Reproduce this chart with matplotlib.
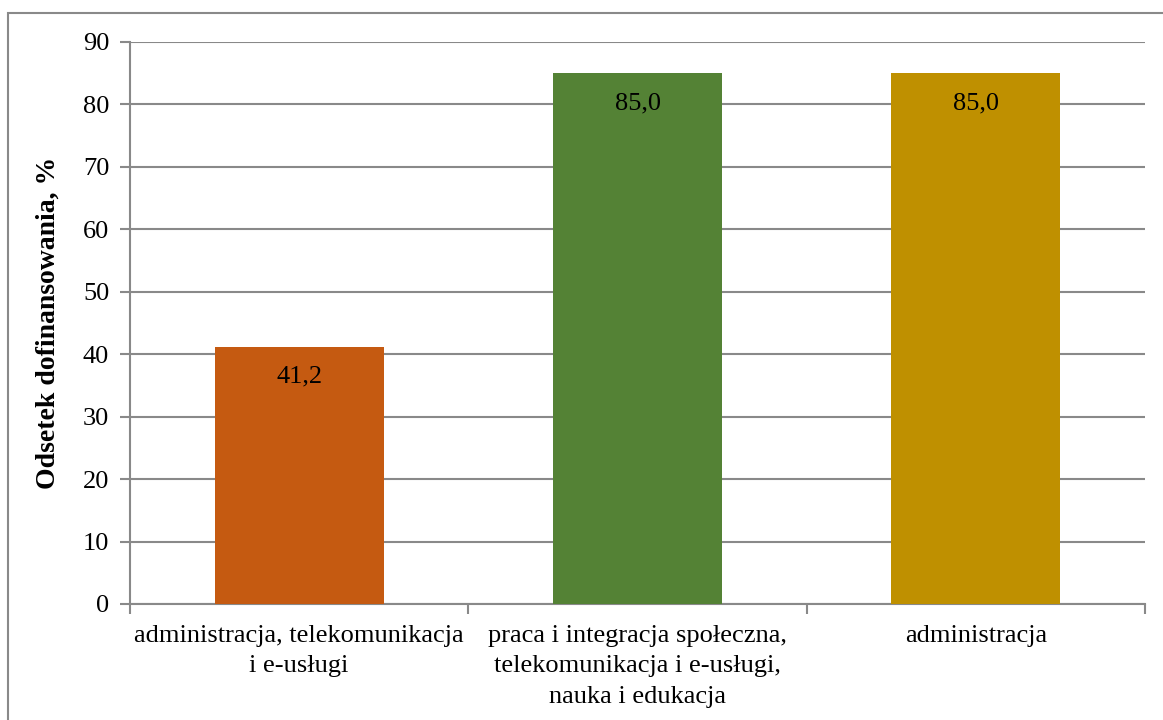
import matplotlib.pyplot as plt
from matplotlib.patches import Rectangle

categories = ['administracja, telekomunikacja\ni e-usługi',
              'praca i integracja społeczna,\ntelekomunikacja i e-usługi,\nnauka i edukacja',
              'administracja']
values = [41.2, 85.0, 85.0]
colors = ['#C55A11', '#548235', '#BF9000']
yticks = [0, 10, 20, 30, 40, 50, 60, 70, 80, 90]

plt.rcParams['font.family'] = ['Liberation Serif', 'DejaVu Serif']
grey = '#898989'

fig = plt.figure(figsize=(11.63, 7.2), dpi=100)
ax = fig.add_axes([130 / 1163, 1 - 604 / 720, (1145 - 130) / 1163, (604 - 42) / 720])

# frame around the chart area (runs off the right and bottom edges)
fig.patches.append(Rectangle((8 / 1163, -0.1), 1.2, 1 - 13 / 720 + 0.1,
                             transform=fig.transFigure, fill=False,
                             edgecolor=grey, linewidth=1.5))

x = range(len(values))
bars = ax.bar(x, values, width=0.5, color=colors, zorder=3)
for i, v in enumerate(values):
    ax.text(i, v - 4.8, f'{v:.1f}'.replace('.', ','), ha='center', va='center',
            fontsize=19, zorder=4)

ax.set_xlim(-0.5, len(values) - 0.5)
ax.set_ylim(0, 90)
ax.set_yticks(yticks)
ax.tick_params(axis='y', labelsize=19, length=7, width=1.5, color=grey, pad=8)
ax.yaxis.grid(True, color=grey, linewidth=1.5, zorder=0)

ax.set_xticks([-0.5, 0.5, 1.5, 2.5], minor=False)
ax.set_xticklabels([])
ax.tick_params(axis='x', length=7, width=1.5, color=grey)
ax.set_xticks(list(x), minor=True)
ax.set_xticklabels(categories, minor=True, fontsize=19, linespacing=1.5)
ax.tick_params(axis='x', which='minor', length=0, pad=15)

for side in ['top', 'right']:
    ax.spines[side].set_visible(False)
for side in ['left', 'bottom']:
    ax.spines[side].set_color(grey)
    ax.spines[side].set_linewidth(1.5)

ax.set_ylabel('Odsetek dofinansowania, %', fontsize=20, fontweight='bold', labelpad=16)

fig.savefig('out.png', dpi=100)
